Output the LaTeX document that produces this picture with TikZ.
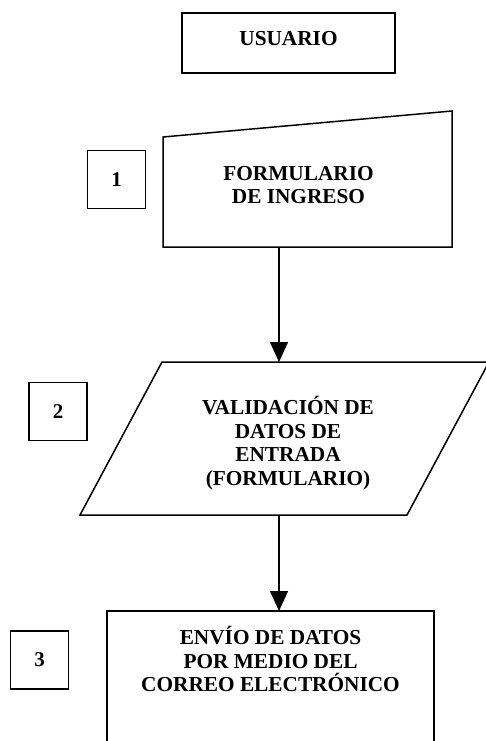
\documentclass[tikz,border=0pt]{standalone}
\usepackage{fontspec}
\setmainfont{Liberation Serif}
\usetikzlibrary{arrows.meta}
\begin{document}
\begin{tikzpicture}[x=1pt,y=-1pt,line width=1.5pt,
    texto/.style={font=\bfseries\fontsize{21.3}{23.7}\selectfont, align=center, inner sep=0pt},
    numero/.style={draw, minimum size=58pt, font=\bfseries\fontsize{21}{24}\selectfont},
    flecha/.style={-{Triangle[width=18pt,length=20pt]}}]
    \useasboundingbox (0,0) rectangle (485,741);

    \node[draw, minimum width=213pt, minimum height=60pt] (usuario) at (288.5,43) {};
    \node[texto] (tusuario) at (288.5,38.5) {USUARIO};

    \node[numero] (num1) at (116.5,179.5) {1};
    \node[numero] (num2) at (58,411.5) {2};
    \node[numero] (num3) at (39.5,660) {3};

    % formulario de ingreso
    \draw (163,137) -- (452,111) -- (452,247) -- (163,247) -- cycle;
    \node[texto] (tform) at (298.5,185) {FORMULARIO\\DE INGRESO};

    % validacion
    \draw (162,362) -- (489,362) -- (407,515) -- (80,515) -- cycle;
    \node[texto] (tvalid) at (288,443) {VALIDACIÓN DE\\DATOS DE\\ENTRADA\\(FORMULARIO)};

    % envio
    \draw (107,745) -- (107,611) -- (434,611) -- (434,745);
    \node[texto] (tenvio) at (270.5,659) {ENVÍO DE DATOS\\POR MEDIO DEL\\CORREO ELECTRÓNICO};

    \coordinate (formbot) at (279,247);
    \coordinate (valtop) at (279,362);
    \coordinate (valbot) at (279,515);
    \coordinate (envtop) at (279,611);
    \draw[flecha] (formbot) -- (valtop);
    \draw[flecha] (valbot) -- (envtop);
\end{tikzpicture}
\end{document}
